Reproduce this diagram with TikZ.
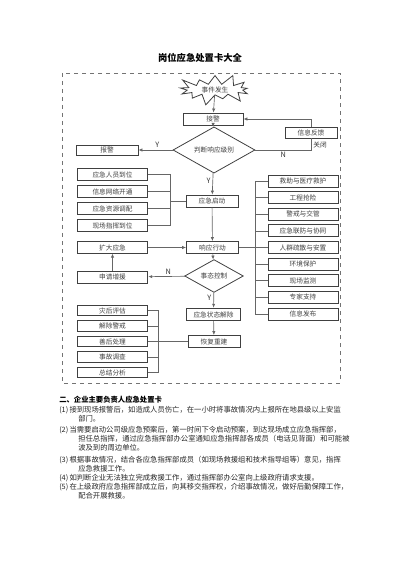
\documentclass[tikz,border=0pt]{standalone}
\usepackage{fontspec}
\setmainfont{Noto Sans CJK SC}
\usetikzlibrary{shapes.geometric,shapes.symbols,arrows.meta}

\begin{document}
\begin{tikzpicture}[x=0.75pt,y=-0.75pt,
    >={Latex[length=3pt,width=2.5pt]},
    every node/.style={font=\fontsize{5}{6}\selectfont, text=black!75},
    stepbox/.style ={draw=black!75, line width=0.6pt, minimum width=53pt, minimum height=8.5pt, inner sep=0pt},
    mainbox/.style ={stepbox, minimum width=39pt, minimum height=9pt},
    sidebox/.style ={stepbox, minimum width=52.5pt, minimum height=9pt},
    decision/.style ={diamond, draw=black!75, line width=0.6pt, inner sep=0pt},
    link/.style ={draw=black!60, line width=0.5pt},
    yn/.style ={font=\fontsize{5.5}{6}\selectfont, text=black!80, inner sep=1.5pt},
    bodytext/.style ={anchor=west, inner sep=0pt, font=\fontsize{5.5}{6.5}\selectfont, text=black!85}]
   \useasboundingbox (0,0) rectangle (400,566);
   \draw[dashed, black!55, line width=0.5pt] (62,73) rectangle (340,383);
   \node[font=\fontsize{7}{8}\selectfont\bfseries, text=black] (title) at (200,58) {岗位应急处置卡大全};
   % flow chart
   \node[starburst, draw=black!75, line width=0.6pt, starburst points=13, starburst point height=9pt,
         minimum width=60pt, minimum height=26pt, inner sep=0pt] (event) at (215,89.5) {事件发生};
   \node[mainbox, minimum width=45pt] (jiejing) at (213,119) {接警};
   \node[mainbox, minimum height=8.25pt] (fankui) at (311,132.5) {信息反馈};
   \node[decision, minimum width=61.5pt, minimum height=22.5pt] (panduan) at (214,150) {判断响应级别};
   \node[stepbox, minimum width=46.5pt, minimum height=7.5pt] (baojing) at (107,150) {报警};
   \foreach \name [count=\i] in {应急人员到位,信息网络开通,应急资源调配,现场指挥到位}
     \node[stepbox] (pre\i) at (112.5,157.5+17*\i) {\name};
   \node[mainbox] (qidong) at (212,201) {应急启动};
   \node[stepbox] (kuoda) at (112.5,247.5) {扩大应急};
   \node[mainbox] (xingdong) at (212.5,247.5) {响应行动};
   \foreach \name [count=\i] in {救助与医疗救护,工程抢险,警戒与交管,应急联防与协同,人群疏散与安置,环境保护,现场监测,专家支持,信息发布}
     \node[sidebox] (act\i) at (303,164.5+16.6*\i) {\name};
   \node[stepbox, minimum height=9pt] (zengyuan) at (112.5,277) {申请增援};
   \node[decision, minimum width=44pt, minimum height=17pt] (kongzhi) at (214,276) {事态控制};
   \node[mainbox, minimum width=40pt, minimum height=9.5pt] (jiechu) at (213.5,314.5) {应急状态解除};
   \node[mainbox] (huifu) at (214,341.5) {恢复重建};
   \foreach \name [count=\i] in {灾后评估,解除警戒,善后处理,事故调查,总结分析}
     \node[stepbox, minimum height=8pt] (post\i) at (112.5,295+15.5*\i) {\name};
   \coordinate (joinpre) at (170,201);
   \coordinate (joinact) at (255,247.5);
   \coordinate (joinpost) at (158,341.5);
   % connectors
   \draw[link,->] (event) -- (jiejing);
   \draw[link,->] (jiejing) -- (panduan);
   \draw[link,->] (panduan) -- (baojing) node[yn, above, pos=0.45] {Y};
   \draw[link] (panduan.east) -| (fankui.south)
     node[yn, below, pos=0.25] {N} node[yn, right, pos=0.72, font=\fontsize{5}{6}\selectfont] {关闭};
   \draw[link,->] (fankui.north) |- (jiejing.east);
   \draw[link,->] (panduan) -- (qidong) node[yn, left, pos=0.35] {Y};
   \foreach \i in {1,...,4}
     \draw[link] (pre\i.east) -| (joinpre);
   \draw[link] (joinpre) -- (qidong.west);
   \draw[link,->] (qidong) -- (xingdong);
   \draw[link,->] (kuoda) -- (xingdong);
   \draw[link] (xingdong.east) -- (joinact);
   \foreach \i in {1,...,9}
     \draw[link] (act\i.west) -| (joinact);
   \draw[link,->] (xingdong) -- (kongzhi);
   \draw[link,->] (kongzhi) -- (zengyuan) node[yn, above, pos=0.45] {N};
   \draw[link,->] (zengyuan) -- (kuoda);
   \draw[link,->] (kongzhi) -- (jiechu) node[yn, left, pos=0.35] {Y};
   \draw[link,->] (jiechu) -- (huifu);
   \foreach \i in {1,...,5}
     \draw[link] (post\i.east) -| (joinpost);
   \draw[link] (joinpost) -- (huifu.west);
   % text below
   \node[bodytext, font=\fontsize{5.5}{6.5}\selectfont\bfseries, text=black] (heading) at (59,400) {二、企业主要负责人应急处置卡};
   \node[bodytext] (line1) at (59,410) {(1)\,接到现场报警后，如造成人员伤亡，在一小时将事故情况内上报所在地县级以上安监};
   \node[bodytext] (line2) at (78,419) {部门。};
   \node[bodytext] (line3) at (59,430) {(2)\,当需要启动公司级应急预案后，第一时间下令启动预案，到达现场成立应急指挥部，};
   \node[bodytext] (line4) at (78,439) {担任总指挥，通过应急指挥部办公室通知应急指挥部各成员（电话见背面）和可能被};
   \node[bodytext] (line5) at (78,448) {波及到的周边单位。};
   \node[bodytext] (line6) at (59,460) {(3)\,根据事故情况，结合各应急指挥部成员（如现场救援组和技术指导组等）意见，指挥};
   \node[bodytext] (line7) at (78,469) {应急救援工作。};
   \node[bodytext] (line8) at (59,478) {(4)\,如判断企业无法独立完成救援工作，通过指挥部办公室向上级政府请求支援。};
   \node[bodytext] (line9) at (59,487) {(5)\,在上级政府应急指挥部成立后，向其移交指挥权，介绍事故情况，做好后勤保障工作，};
   \node[bodytext] (line10) at (78,496) {配合开展救援。};
 \end{tikzpicture}
\end{document}
